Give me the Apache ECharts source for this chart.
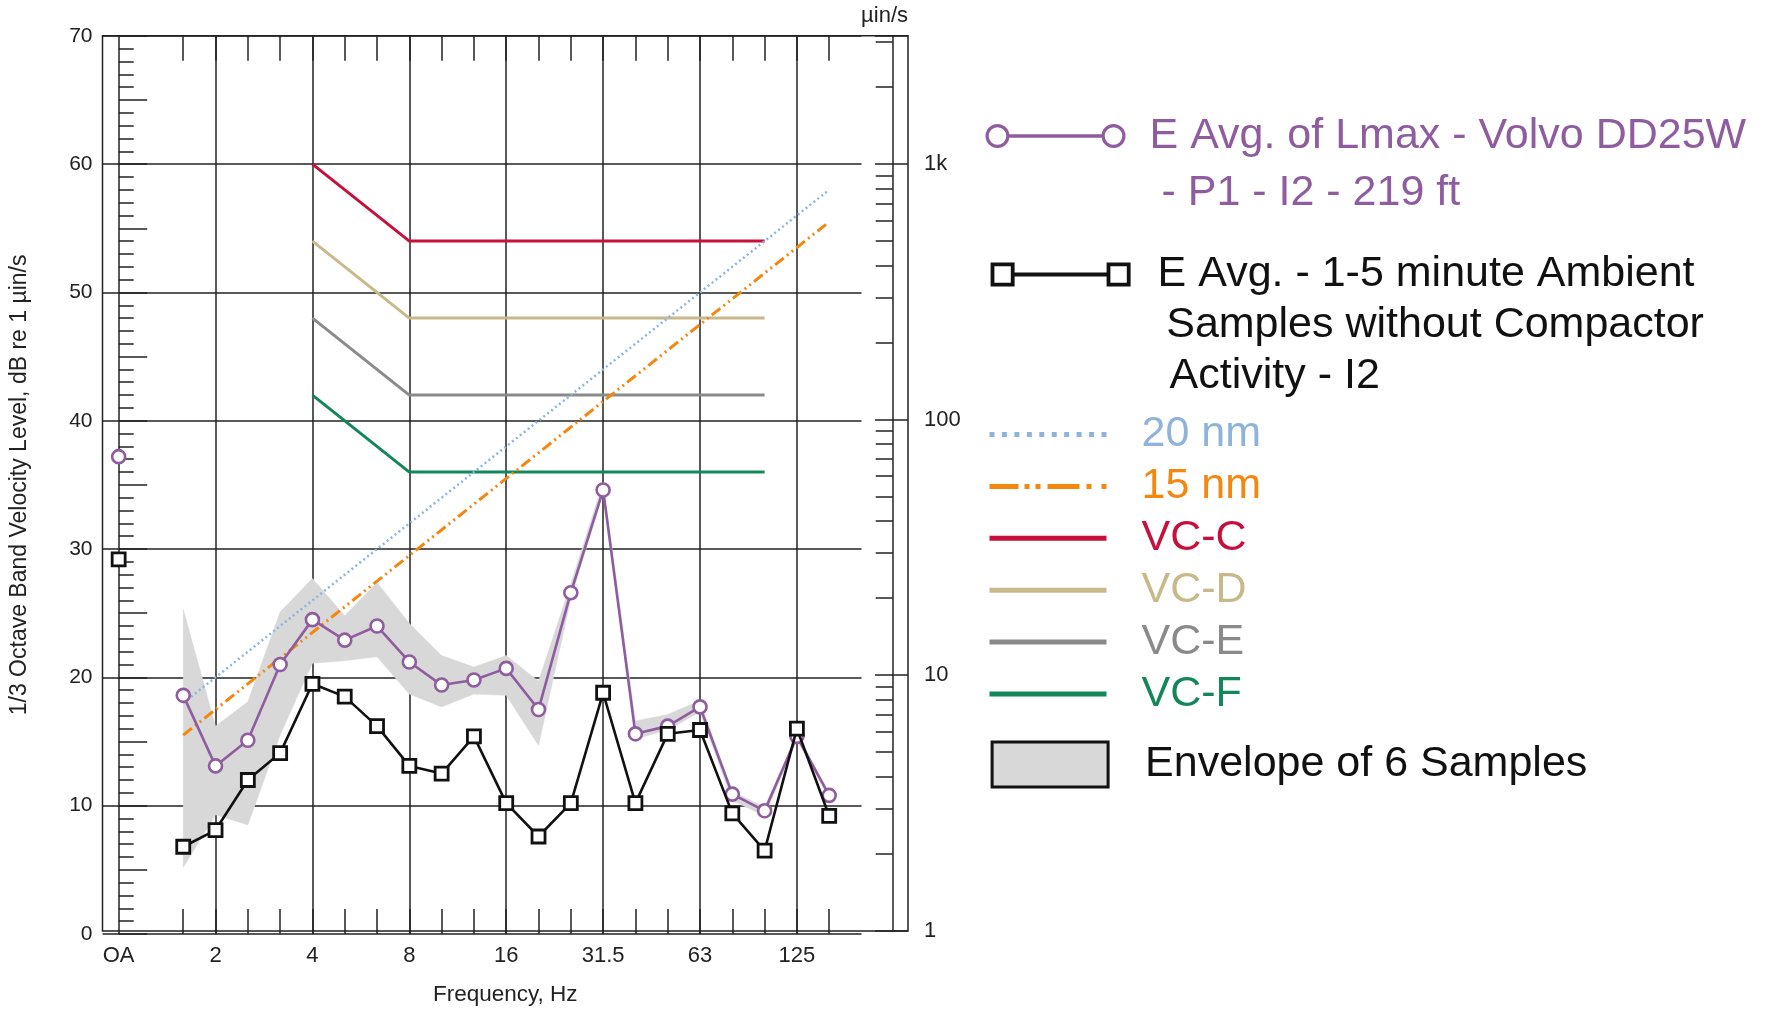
<!DOCTYPE html>
<html>
<head>
<meta charset="utf-8">
<title>1/3 Octave Band Velocity Level</title>
<script src="https://cdn.jsdelivr.net/npm/echarts@6/dist/echarts.min.js"></script>
<style>
  html, body { margin: 0; padding: 0; background: #fff; }
  #chart { width: 1767px; height: 1011px; }
</style>
</head>
<body>
<div id="chart"></div>
<script>
// One-third octave band centre frequencies (Hz); 'OA' is the overall level
const bands = ['OA', '1.25', '1.6', '2', '2.5', '3.15', '4', '5', '6.3', '8', '10', '12.5',
               '16', '20', '25', '31.5', '40', '50', '63', '80', '100', '125', '160'];
// bands that carry a grid line and a label
const labelledBands = ['OA', '2', '4', '8', '16', '31.5', '63', '125'];
// bands that carry a short tick at top and bottom
const tickedBands = ['1.6', '2', '2.5', '3.15', '4', '5', '6.3', '8', '10', '12.5', '16', '20',
                     '25', '31.5', '40', '50', '63', '80', '100', '125', '160'];

// Levels in dB re 1 µin/s, one value per band (null = no value)
const lmaxAvg = [37.2, null, 18.6, 13.1, 15.1, 21.0, 24.5, 22.9, 24.0, 21.2, 19.4, 19.8,
                 20.7, 17.5, 26.6, 34.6, 15.6, 16.2, 17.7, 10.9, 9.6, 15.4, 10.8];
const ambientAvg = [29.2, null, 6.8, 8.1, 12.0, 14.1, 19.5, 18.5, 16.2, 13.1, 12.5, 15.4,
                    10.2, 7.6, 10.2, 18.8, 10.2, 15.6, 15.9, 9.4, 6.5, 16.0, 9.2];
const envelopeLow = [null, null, 5.2, 9.3, 8.5, 15.5, 21.1, 21.3, 21.6, 18.7, 17.7, 18.7,
                     18.6, 14.7, 26.1, 34.4, 15.2, 15.9, 17.3, 10.4, 9.2, 15.1, 10.6];
const envelopeHigh = [null, null, 25.3, 16.2, 18.1, 25.1, 27.7, 24.8, 27.4, 24.2, 21.7, 20.8,
                      21.7, 19.7, 27.3, 35.2, 16.6, 17.1, 18.2, 11.1, 9.9, 15.6, 11.0];

// Vibration criteria curves
const vcBands = ['4', '8', '100'];
const vcC = [60, 54, 54];
const vcD = [54, 48, 48];
const vcE = [48, 42, 42];
const vcF = [42, 36, 36];

// Constant-displacement lines
const nmBands = ['1.6', '160'];
const nm20 = [18.0, 58.0];
const nm15 = [15.5, 55.5];

// Right-hand velocity scale (µin/s): one decade every 20 dB
const velocityMajor = [1, 10, 100, 1000];
const velocityMajorLabels = ['1', '10', '100', '1k'];
const velocityMinor = [2, 3, 4, 5, 6, 7, 8, 9, 20, 30, 40, 50, 60, 70, 80, 90,
                       200, 300, 400, 500, 600, 700, 800, 900, 2000, 3000];

// Legend wording
const lmaxLegend = ['E Avg. of Lmax - Volvo DD25W', ' - P1 - I2 - 219 ft'];
const ambientLegend = ['E Avg. - 1-5 minute Ambient', '\u2009Samples without Compactor', ' Activity - I2'];
const lmaxName = lmaxLegend.join(' ').replace(/\s+/g, ' ');
const ambientName = ambientLegend.join(' ').replace(/\s+/g, ' ');

const FONT = "'Liberation Sans', Arial, Helvetica, sans-serif";
const INK = '#222';
const C = {
  lmax: '#8e5c9f', ambient: '#111', nm20: '#8fb4dc', nm15: '#f5870f',
  vcC: '#c8103c', vcD: '#c8b98b', vcE: '#8a8a8a', vcF: '#13875a', env: '#d8d8d8'
};

const pos = b => bands.indexOf(b);
const toDb = v => 20 * Math.log10(v);   // µin/s -> dB re 1 µin/s
const gridLine = { color: INK, width: 1.5 };
const decadeDb = toDb(10);              // 20 dB per decade

// Multi-line legend text whose first line sits level with the icon:
// blank lines are put in front so the centred block starts on the icon row.
const firstLineOnIcon = lines => new Array(lines.length - 1).fill('').concat(lines).join('\n');

// ---- legend icon shapes ----
const rectP = (x0, y0, x1, y1) => `M${x0},${y0}L${x1},${y0}L${x1},${y1}L${x0},${y1}Z`;
const holeP = (x0, y0, x1, y1) => `M${x0},${y0}L${x0},${y1}L${x1},${y1}L${x1},${y0}Z`;
const ringP = (cx, cy, r) => `M${cx - r},${cy}A${r},${r} 0 1,1 ${cx + r},${cy}A${r},${r} 0 1,1 ${cx - r},${cy}Z`;
const ringHoleP = (cx, cy, r) => `M${cx - r},${cy}A${r},${r} 0 1,0 ${cx + r},${cy}A${r},${r} 0 1,0 ${cx - r},${cy}Z`;

const circleLineIcon = 'path://' +
  ringP(12, 12, 12) + ringHoleP(12, 12, 8.8) +
  rectP(24, 10.2, 116, 13.8) +
  ringP(128, 12, 12) + ringHoleP(128, 12, 8.8);
const squareLineIcon = 'path://' +
  rectP(0, 0, 24, 24) + holeP(3.8, 3.8, 20.2, 20.2) +
  rectP(24, 10, 116, 14) +
  rectP(116, 0, 140, 24) + holeP(119.8, 3.8, 136.2, 20.2);
const dottedIcon = 'path://' + Array.from({ length: 10 }, (_, i) => {
  const x = +(i * 112 / 9).toFixed(2);
  return rectP(x, 0, x + 5, 5);
}).join('');
const dashDotIcon = 'path://' +
  [[0, 29], [35, 40], [46, 51], [58, 90], [97, 102], [112, 117]]
    .map(s => rectP(s[0], 0, s[1], 5)).join('');

// ---- series helpers ----
const bandSeries = (arr) => arr.map((v, i) => [i, v == null ? '-' : v]);
const envIdx = envelopeLow.map((v, i) => (v == null ? -1 : i)).filter(i => i >= 0);

const criterion = (name, xs, ys, color, width, type) => ({
  name, type: 'line', xAxisIndex: 0, yAxisIndex: 0,
  data: xs.map((b, i) => [pos(b), ys[i]]),
  symbol: 'none', silent: true,
  lineStyle: { color, width, type: type || 'solid', cap: 'butt' },
  itemStyle: { color },
  emphasis: { disabled: true }
});

const legendBase = {
  padding: 0, selectedMode: false, symbolKeepAspect: false,
  textStyle: { fontFamily: FONT, fontSize: 43 }
};

const option = {
  animation: false,
  backgroundColor: '#fff',
  textStyle: { fontFamily: FONT },
  grid: [
    { left: 102.5, right: 1767 - 861.5, top: 35.8, bottom: 77, show: false },
    { left: 102.5, right: 1767 - 908, top: 35.8, bottom: 77, show: true,
      borderColor: INK, borderWidth: 1.5, backgroundColor: 'transparent' }
  ],
  xAxis: [
    { // labelled octave grid lines
      gridIndex: 0, type: 'value', position: 'bottom', min: -0.5, max: 23,
      axisLine: { show: false, onZero: false },
      axisTick: { show: false, customValues: labelledBands.map(pos) },
      axisLabel: {
        customValues: labelledBands.map(pos),
        formatter: v => bands[Math.round(v)],
        fontSize: 22, color: INK, margin: 11, fontFamily: FONT
      },
      splitLine: { show: true, lineStyle: gridLine }
    },
    { // third-octave ticks, bottom
      gridIndex: 0, type: 'value', position: 'bottom', min: -0.5, max: 23,
      axisLine: { show: false, onZero: false }, axisLabel: { show: false }, splitLine: { show: false },
      axisTick: { show: true, inside: true, length: 25, customValues: tickedBands.map(pos), lineStyle: gridLine }
    },
    { // third-octave ticks, top
      gridIndex: 0, type: 'value', position: 'top', min: -0.5, max: 23,
      axisLine: { show: false, onZero: false }, axisLabel: { show: false }, splitLine: { show: false },
      axisTick: { show: true, inside: true, length: 25, customValues: tickedBands.map(pos), lineStyle: gridLine }
    },
    { // frame axis carrying the axis title
      gridIndex: 1, type: 'value', position: 'bottom', min: 0, max: 1,
      axisLine: { show: false, onZero: false }, axisTick: { show: false }, axisLabel: { show: false }, splitLine: { show: false },
      name: 'Frequency, Hz', nameLocation: 'middle', nameGap: 52,
      nameTextStyle: { fontSize: 22.5, color: INK, fontFamily: FONT }
    }
  ],
  yAxis: [
    { // dB scale with labels and horizontal grid lines
      gridIndex: 0, type: 'value', position: 'left', min: 0, max: 70, interval: 10,
      axisLine: { show: false, onZero: false }, axisTick: { show: false },
      axisLabel: { fontSize: 21, color: INK, margin: 10, fontFamily: FONT },
      splitLine: { show: true, lineStyle: gridLine },
      name: '1/3 Octave Band Velocity Level, dB re 1 µin/s',
      nameLocation: 'middle', nameGap: 71, nameRotate: 90,
      nameTextStyle: { fontSize: 23, color: INK, fontFamily: FONT }
    },
    { // 1 dB / 5 dB ticks along the OA line
      gridIndex: 0, type: 'value', position: 'left', offset: -16.2, min: 0, max: 70, interval: 5,
      axisLine: { show: false, onZero: false }, axisLabel: { show: false }, splitLine: { show: false },
      axisTick: { show: true, inside: true, length: 28.5, lineStyle: gridLine },
      minorTick: { show: true, splitNumber: 5, length: 15, lineStyle: gridLine }
    },
    { // velocity decades: long ticks and labels on the frame edge
      gridIndex: 1, type: 'value', position: 'right', offset: 0, min: 0, max: 70, interval: decadeDb,
      axisLine: { show: false, onZero: false }, splitLine: { show: false },
      axisTick: { show: true, inside: true, length: 33, lineStyle: gridLine },
      axisLabel: {
        formatter: v => {
          const k = velocityMajor.findIndex(m => Math.abs(toDb(m) - v) < 1e-6);
          return k >= 0 ? velocityMajorLabels[k] : '';
        },
        fontSize: 22, color: INK, margin: 16, fontFamily: FONT
      },
      name: 'µin/s', nameLocation: 'end', nameGap: 9,
      nameTextStyle: { align: 'right', verticalAlign: 'bottom', fontSize: 22, color: INK, fontFamily: FONT }
    },
    { // velocity scale line with intermediate ticks
      gridIndex: 1, type: 'value', position: 'right', offset: -15.3, min: 0, max: 70,
      axisLine: { show: true, onZero: false, lineStyle: gridLine },
      axisLabel: { show: false }, splitLine: { show: false },
      axisTick: { show: true, inside: true, length: 17, customValues: velocityMinor.map(toDb), lineStyle: gridLine }
    }
  ],
  legend: [
    Object.assign({}, legendBase, {
      left: 985.5, top: 49.75, itemWidth: 140, itemHeight: 24,
      formatter: () => firstLineOnIcon(lmaxLegend),
      data: [{ name: lmaxName, icon: circleLineIcon,
               itemStyle: { color: C.lmax, borderWidth: 0 },
               textStyle: { color: C.lmax, lineHeight: 57.5, padding: [0, 0, 0, 19] } }]
    }),
    Object.assign({}, legendBase, {
      left: 990.6, top: 147, itemWidth: 140, itemHeight: 24,
      formatter: () => firstLineOnIcon(ambientLegend),
      data: [{ name: ambientName, icon: squareLineIcon,
               itemStyle: { color: C.ambient, borderWidth: 0 },
               textStyle: { color: '#111', lineHeight: 51, padding: [0, 0, 0, 22] } }]
    }),
    Object.assign({}, legendBase, {
      left: 989.5, top: 412.5, orient: 'vertical', itemWidth: 117, itemHeight: 5, itemGap: 7.9,
      data: [
        { name: '20 nm', icon: dottedIcon, itemStyle: { color: C.nm20, borderWidth: 0 }, textStyle: { color: C.nm20, lineHeight: 44, padding: [0, 0, 0, 30] } },
        { name: '15 nm', icon: dashDotIcon, itemStyle: { color: C.nm15, borderWidth: 0 }, textStyle: { color: C.nm15, lineHeight: 44, padding: [0, 0, 0, 30] } },
        { name: 'VC-C', icon: 'rect', itemStyle: { color: C.vcC, borderWidth: 0 }, textStyle: { color: C.vcC, lineHeight: 44, padding: [0, 0, 0, 30] } },
        { name: 'VC-D', icon: 'rect', itemStyle: { color: C.vcD, borderWidth: 0 }, textStyle: { color: C.vcD, lineHeight: 44, padding: [0, 0, 0, 30] } },
        { name: 'VC-E', icon: 'rect', itemStyle: { color: C.vcE, borderWidth: 0 }, textStyle: { color: C.vcE, lineHeight: 44, padding: [0, 0, 0, 30] } },
        { name: 'VC-F', icon: 'rect', itemStyle: { color: C.vcF, borderWidth: 0 }, textStyle: { color: C.vcF, lineHeight: 44, padding: [0, 0, 0, 30] } }
      ]
    }),
    Object.assign({}, legendBase, {
      left: 990.6, top: 740.4, itemWidth: 116, itemHeight: 45,
      data: [{ name: 'Envelope of 6 Samples', icon: 'rect',
               itemStyle: { color: C.env, borderColor: '#111', borderWidth: 3 },
               textStyle: { color: '#111', lineHeight: 44, padding: [0, 0, 0, 32] } }]
    })
  ],
  series: [
    { // min/max band of the six samples, drawn as one filled outline
      name: 'Envelope of 6 Samples', type: 'custom', xAxisIndex: 0, yAxisIndex: 0,
      data: envIdx.map(i => [i, envelopeLow[i], envelopeHigh[i]]),
      encode: { x: 0, y: [1, 2] },
      silent: true, z: 1,
      itemStyle: { color: C.env },
      renderItem: (params, api) => {
        if (params.dataIndex !== 0) return null;
        const upper = envIdx.map(i => api.coord([i, envelopeHigh[i]]));
        const lower = envIdx.map(i => api.coord([i, envelopeLow[i]])).reverse();
        return {
          type: 'polygon',
          shape: { points: upper.concat(lower) },
          style: { fill: C.env, stroke: C.env, lineWidth: 0.5 }
        };
      }
    },
    criterion('VC-F', vcBands, vcF, C.vcF, 3),
    criterion('VC-E', vcBands, vcE, C.vcE, 3),
    criterion('VC-D', vcBands, vcD, C.vcD, 3),
    criterion('VC-C', vcBands, vcC, C.vcC, 3),
    criterion('15 nm', nmBands, nm15, C.nm15, 3, [11, 4, 2, 4, 2, 4]),
    criterion('20 nm', nmBands, nm20, C.nm20, 2.5, [2, 3]),
    {
      name: lmaxName, type: 'line', xAxisIndex: 0, yAxisIndex: 0,
      data: bandSeries(lmaxAvg), connectNulls: false,
      symbol: 'circle', symbolSize: 13, showAllSymbol: true,
      lineStyle: { color: C.lmax, width: 2.6 },
      itemStyle: { color: '#fff', borderColor: C.lmax, borderWidth: 2.6 },
      emphasis: { disabled: true }, z: 4
    },
    {
      name: ambientName, type: 'line', xAxisIndex: 0, yAxisIndex: 0,
      data: bandSeries(ambientAvg), connectNulls: false,
      symbol: 'rect', symbolSize: 13, showAllSymbol: true,
      lineStyle: { color: C.ambient, width: 2.6 },
      itemStyle: { color: '#fff', borderColor: C.ambient, borderWidth: 2.8 },
      emphasis: { disabled: true }, z: 5
    }
  ]
};

const chart = echarts.init(document.getElementById('chart'), null, { renderer: 'canvas' });
chart.setOption(option);
</script>
</body>
</html>
